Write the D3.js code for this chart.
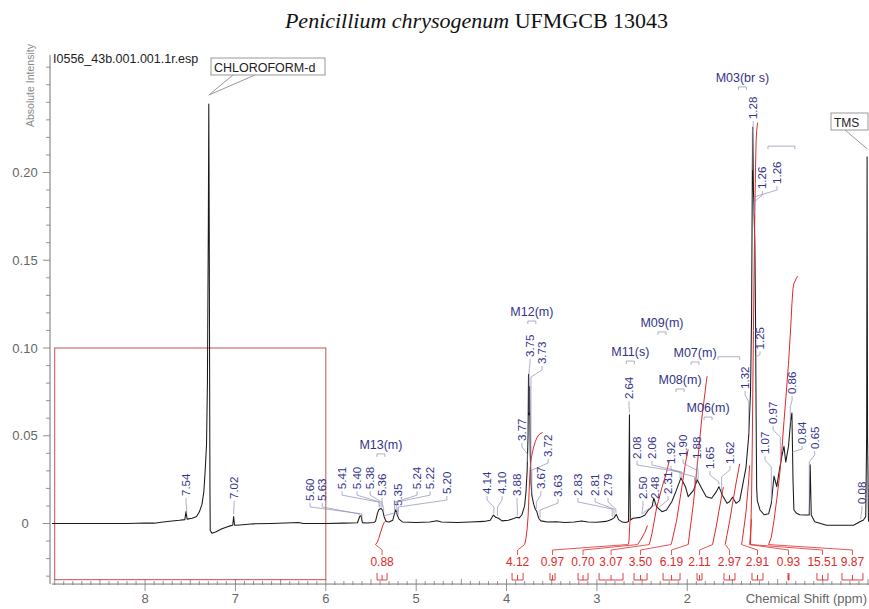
<!DOCTYPE html>
<html><head><meta charset="utf-8">
<script src="https://cdn.jsdelivr.net/npm/d3@7"></script>
<style>body{margin:0;background:#fff}svg{display:block;font-family:"Liberation Sans",Arial,sans-serif}</style>
</head><body>
<svg id="chart" width="869" height="609"></svg>
<script>
// 1H NMR trace: [chemical shift (ppm), absolute intensity]
const spectrum = [
[9.03,0],[8.2,0],[8.0,0.0003],[7.9,0.0002],[7.8,0.0008],[7.7,0.0014],[7.62,0.0018],[7.56,0.0022],
[7.547,0.0068],[7.535,0.0025],[7.48,0.003],[7.43,0.004],[7.40,0.0065],[7.37,0.011],[7.35,0.018],
[7.335,0.03],[7.32,0.045],[7.31,0.08],[7.30,0.17],[7.295,0.239],[7.29,0.17],[7.285,0.07],[7.282,0.02],
[7.279,-0.004],[7.26,-0.0055],[7.22,-0.0048],[7.15,-0.003],[7.07,-0.0015],[7.03,-0.001],[7.02,0.004],
[7.01,-0.001],[6.95,-0.0008],[6.8,-0.0002],[6.6,0],[6.3,0.0006],[6.25,0],[6.0,0],[5.8,0.0002],
[5.65,0.0004],[5.625,0.004],[5.61,0.0045],[5.595,0.0005],[5.55,0.0003],[5.47,0.0006],[5.45,0.0012],
[5.43,0.0055],[5.415,0.0078],[5.39,0.0086],[5.37,0.0074],[5.355,0.004],[5.335,0.0012],[5.30,0.0008],
[5.26,0.0018],[5.235,0.0065],[5.225,0.0078],[5.21,0.005],[5.19,0.0025],[5.15,0.0008],[5.0,0.0006],
[4.85,0.0008],[4.77,0.0016],[4.72,0.0008],[4.55,0.0006],[4.4,0.0009],[4.25,0.0012],[4.18,0.0018],
[4.145,0.0048],[4.12,0.0035],[4.09,0.003],[4.05,0.0015],[3.98,0.0018],[3.92,0.0028],[3.89,0.0035],
[3.86,0.0032],[3.83,0.005],[3.80,0.01],[3.785,0.018],[3.772,0.03],[3.762,0.05],[3.757,0.085],
[3.75,0.062],[3.745,0.078],[3.738,0.04],[3.73,0.024],[3.72,0.016],[3.70,0.011],[3.68,0.008],
[3.665,0.0068],[3.645,0.003],[3.62,0.0015],[3.55,0.0008],[3.45,0.001],[3.35,0.0006],[3.25,0.0009],
[3.17,0.0014],[3.1,0.0008],[3.0,0.0007],[2.9,0.0012],[2.86,0.0018],[2.83,0.0026],[2.81,0.0032],
[2.785,0.0052],[2.76,0.0022],[2.72,0.0008],[2.68,0.0006],[2.65,0.0012],[2.645,0.03],[2.64,0.062],
[2.636,0.03],[2.63,0.002],[2.60,0.003],[2.52,0.0035],[2.47,0.0047],[2.43,0.0077],[2.39,0.0096],
[2.37,0.0144],[2.34,0.0096],[2.28,0.0067],[2.23,0.0077],[2.17,0.0125],[2.12,0.019],[2.07,0.026],
[2.02,0.021],[1.99,0.0153],[1.93,0.019],[1.89,0.0249],[1.84,0.02],[1.79,0.0153],[1.73,0.0144],
[1.68,0.018],[1.65,0.021],[1.61,0.016],[1.56,0.0115],[1.53,0.0125],[1.50,0.015],[1.46,0.0115],
[1.42,0.013],[1.39,0.021],[1.35,0.032],[1.32,0.05],[1.30,0.075],[1.288,0.12],[1.28,0.2],
[1.275,0.2257],[1.268,0.19],[1.26,0.175],[1.252,0.16],[1.245,0.12],[1.238,0.06],[1.232,0.02],
[1.225,0.013],[1.195,0.0077],[1.15,0.005],[1.10,0.0055],[1.07,0.0115],[1.04,0.027],[1.01,0.021],
[0.98,0.0306],[0.955,0.038],[0.93,0.044],[0.91,0.035],[0.88,0.044],[0.855,0.059],[0.842,0.063],
[0.83,0.025],[0.82,0.0077],[0.79,0.0058],[0.755,0.005],[0.70,0.0048],[0.65,0.0048],[0.64,0.0334],
[0.628,0.0048],[0.59,0.001],[0.46,-0.001],[0.31,-0.001],[0.16,-0.001],[0.09,0.001],[0.05,0.002],
[0.025,0.004],[0.015,0.05],[0.01,0.209],[0.005,0.05],[-0.005,0.002],[-0.011,0.001]
];

// picked peaks: shift, where its label sits (ppm) and the intensity at the label's lower end
const peakShift  = [7.54,7.02,5.60,5.63,5.41,5.40,5.38,5.36,5.35,5.24,5.22,5.20,4.14,4.10,3.88,3.77,3.75,3.73,3.72,3.67,3.63,2.83,2.81,2.79,2.64,2.08,2.06,2.50,2.48,2.31,1.92,1.90,1.88,1.65,1.62,1.32,1.28,1.26,1.26,1.25,1.07,0.97,0.86,0.84,0.65,0.08];
const labelShift = [7.547,7.015,6.174,6.04,5.82,5.654,5.51,5.378,5.20,4.99,4.846,4.66,4.216,4.05,3.884,3.83,3.74,3.607,3.54,3.62,3.43,3.21,3.02,2.877,2.645,2.556,2.39,2.49,2.357,2.213,2.18,2.047,1.89,1.75,1.527,1.36,1.27,1.17,1.007,1.195,1.14,1.05,0.84,0.73,0.59,0.067];
const labelLevel = [0.0151,0.0134,0.0123,0.0123,0.019,0.019,0.019,0.0151,0.0094,0.019,0.019,0.0162,0.0162,0.0162,0.0151,0.0465,0.0943,0.0903,0.0373,0.0191,0.0145,0.0151,0.0151,0.0151,0.0703,0.0362,0.0362,0.0134,0.0134,0.0162,0.0334,0.0373,0.0362,0.0305,0.0334,0.0761,0.2299,0.1900,0.1929,0.0986,0.0390,0.0561,0.0732,0.0447,0.0419,0.0105];

// multiplet annotations
const multipletName  = ["M13(m)","M12(m)","M11(s)","M09(m)","M07(m)","M08(m)","M06(m)","M03(br s)"];
const multipletShift = [5.39,3.72,2.63,2.28,1.914,2.08,1.77,1.39];
const multipletLevel = [0.0425,0.1182,0.0954,0.112,0.0949,0.0795,0.0635,0.2516];
// multiplet ranges drawn as bracket lines: [from ppm, to ppm, intensity]
const multipletSpanFrom  = [1.66,1.107];
const multipletSpanTo    = [1.42,0.81];
const multipletSpanLevel = [0.0950,0.2150];

// integrals: value, integrated range and the range of the marker under each value
const integralValue = [0.88,4.12,0.97,0.70,3.07,3.50,6.19,2.11,2.97,2.91,0.93,15.51,9.87];
const integralFrom  = [5.45,3.80,2.66,2.55,2.42,2.18,1.99,1.72,1.58,1.40,1.31,1.30,1.10];
const integralTo    = [5.33,3.60,2.62,2.44,2.20,1.99,1.78,1.60,1.42,1.31,1.29,1.22,0.78];
const markerFrom    = [5.433,3.939,3.519,3.209,2.976,2.589,2.268,1.892,1.594,1.284,0.885,0.565,0.288];
const markerTo      = [5.322,3.817,3.463,3.098,2.711,2.445,2.080,1.837,1.472,1.162,0.874,0.443,0.056];

const xMajor = [2,3,4,5,6,7,8];
const yMajor = [0,0.05,0.10,0.15,0.20];
const yMajorText = ["0","0.05","0.10","0.15","0.20"];

const svg = d3.select("#chart");
const x = d3.scaleLinear().domain([9.03,-0.011]).range([52,869]);
const y = d3.scaleLinear().domain([0,0.2]).range([523.5,172.5]);
const axisGrey = "#777", textGrey = "#666", navy = "#33338a", red = "#e02a2a", leaderBlue = "#8c8cb4";

// title
const title = svg.append("text").attr("x",476.5).attr("y",28).attr("text-anchor","middle")
  .style("font-family","'Liberation Serif','Times New Roman',serif").style("font-size","22px").attr("fill","#111");
title.append("tspan").style("font-style","italic").text("Penicillium chrysogenum");
title.append("tspan").text(" UFMGCB 13043");

// axes
const xAxisY = y(-0.0345);
const yAxisX = 50;
svg.append("line").attr("x1",52).attr("x2",869).attr("y1",xAxisY).attr("y2",xAxisY).attr("stroke",axisGrey);
svg.append("line").attr("x1",yAxisX).attr("x2",yAxisX).attr("y1",y(0.267)).attr("y2",xAxisY).attr("stroke",axisGrey);

const xMinor = d3.range(0,90.5,1).map(i=>i/10).filter(v=>x(v)>=52 && x(v)<=869);
svg.append("g").selectAll("line").data(xMinor).join("line")
  .attr("x1",d=>x(d)).attr("x2",d=>x(d))
  .attr("y1",d=>xAxisY-(Math.abs(d*2-Math.round(d*2))<1e-6?5:3))
  .attr("y2",d=>xAxisY+(xMajor.includes(Math.round(d))&&Math.abs(d-Math.round(d))<1e-6?7:1))
  .attr("stroke",axisGrey).attr("stroke-width",0.8);
svg.append("g").selectAll("text").data(xMajor).join("text")
  .attr("x",d=>x(d)).attr("y",xAxisY+19).attr("text-anchor","middle")
  .style("font-size","13px").attr("fill",textGrey).text(d=>d);
svg.append("text").attr("x",867).attr("y",xAxisY+19).attr("text-anchor","end")
  .style("font-size","13px").attr("fill",textGrey).text("Chemical Shift (ppm)");

const yMinor = d3.range(-3,27).map(i=>i/100);
svg.append("g").selectAll("line").data(yMinor).join("line")
  .attr("x1",d=>yAxisX-(yMajor.some(m=>Math.abs(m-d)<1e-6)?7:4)).attr("x2",yAxisX)
  .attr("y1",d=>y(d)).attr("y2",d=>y(d)).attr("stroke",axisGrey).attr("stroke-width",0.8);
svg.append("g").selectAll("text").data(yMajor).join("text")
  .attr("x",25).attr("y",d=>y(d)+4.5).attr("text-anchor","middle")
  .style("font-size","13px").attr("fill",textGrey).text((d,i)=>yMajorText[i]);
svg.append("text").attr("transform","translate(34,127) rotate(-90)")
  .style("font-size","10.5px").attr("fill","#888").text("Absolute Intensity");

svg.append("text").attr("x",53).attr("y",63).style("font-size","12.5px").attr("fill","#222")
  .text("I0556_43b.001.001.1r.esp");

// expansion frame
svg.append("rect").attr("x",x(9.0)).attr("y",y(0.10))
  .attr("width",x(6.0)-x(9.0)).attr("height",y(-0.032)-y(0.10))
  .attr("fill","none").attr("stroke","#c85050").attr("stroke-width",1);

// spectrum
const line = d3.line().x(d=>x(d[0])).y(d=>y(d[1]));
svg.append("path").datum(spectrum).attr("d",line).attr("fill","none")
  .attr("stroke","#1a1a1a").attr("stroke-width",1.05).attr("stroke-linejoin","round");

function valueAt(p){
  for(let i=1;i<spectrum.length;i++){
    const a=spectrum[i-1], b=spectrum[i];
    if(p<=a[0] && p>=b[0]){ const t=(a[0]-p)/(a[0]-b[0]||1); return a[1]+t*(b[1]-a[1]); }
  }
  return 0;
}

// integral curves: running sum of the trace across each range
const integralBase = -0.012, perUnit = 0.0155;
function integralPoints(from,to,value){
  const pts=[[from,valueAt(from)],...spectrum.filter(d=>d[0]<from&&d[0]>to),[to,valueAt(to)]];
  const cum=[0];
  for(let i=1;i<pts.length;i++){
    const w=pts[i-1][0]-pts[i][0];
    cum.push(cum[i-1]+w*(Math.max(0,pts[i-1][1])+Math.max(0,pts[i][1]))/2);
  }
  const total=cum[cum.length-1]||1;
  return pts.map((d,i)=>[d[0], integralBase+cum[i]/total*value*perUnit]);
}
const gInt = svg.append("g");
integralValue.forEach((v,i)=>{
  gInt.append("path").datum(integralPoints(integralFrom[i],integralTo[i],v)).attr("d",line)
    .attr("fill","none").attr("stroke",red).attr("stroke-width",1);
  const cx=(x(markerFrom[i])+x(markerTo[i]))/2;
  gInt.append("text").attr("x",cx).attr("y",566).attr("text-anchor","middle")
    .style("font-size","12px").attr("fill",red).text(v.toFixed(2));
  gInt.append("path").attr("d",`M${x(markerFrom[i])},573V580H${x(markerTo[i])}V573M${cx},575V580`)
    .attr("fill","none").attr("stroke",red).attr("stroke-width",0.9);
  gInt.append("path").attr("d",`M${cx},555V550L${x(integralFrom[i])},${y(integralBase)}`)
    .attr("fill","none").attr("stroke",red).attr("stroke-width",0.8);
});

// peak labels
const gPk = svg.append("g");
peakShift.forEach((p,i)=>{
  const lx=x(labelShift[i]), ly=y(labelLevel[i]);
  const px=x(p), py=y(valueAt(p))-2;
  let d;
  if(py<=ly+6) d=`M${lx},${ly+1}V${ly+4}L${px},${ly+7}`;
  else d=`M${lx},${ly+1}V${ly+5}L${px},${Math.max(ly+5,Math.min(py,ly+12))}V${py}`;
  gPk.append("path").attr("d",d).attr("fill","none").attr("stroke",leaderBlue).attr("stroke-width",0.7);
  gPk.append("text").attr("transform",`translate(${lx+4},${ly-1}) rotate(-90)`)
    .style("font-size","11.5px").attr("fill",navy).text(p.toFixed(2));
});

// multiplet names with small brackets
multipletName.forEach((n,i)=>{
  const mx=x(multipletShift[i]), my=y(multipletLevel[i]);
  svg.append("text").attr("x",mx).attr("y",my).attr("text-anchor","middle")
    .style("font-size","12.5px").attr("fill",navy).text(n);
  svg.append("path").attr("d",`M${mx-4},${my+8}V${my+5}H${mx+4}V${my+8}`)
    .attr("fill","none").attr("stroke",leaderBlue).attr("stroke-width",0.7);
});
multipletSpanFrom.forEach((f,i)=>{
  const yy=y(multipletSpanLevel[i]);
  svg.append("path").attr("d",`M${x(f)},${yy+3}V${yy}H${x(multipletSpanTo[i])}V${yy+3}`)
    .attr("fill","none").attr("stroke",leaderBlue).attr("stroke-width",0.7);
});

// callouts for solvent and reference
const chX = x(7.295), chY = y(0.239);
svg.append("rect").attr("x",211).attr("y",58).attr("width",114).attr("height",17)
  .attr("fill","#fff").attr("stroke","#999");
svg.append("text").attr("x",214).attr("y",71.5).style("font-size","12.5px").attr("fill","#222").text("CHLOROFORM-d");
svg.append("path").attr("d",`M233,75L${chX},${chY-9}L255,75`).attr("fill","none").attr("stroke","#999");
const tmsX = x(0.01), tmsY = y(0.209);
svg.append("rect").attr("x",831).attr("y",113).attr("width",37).attr("height",17)
  .attr("fill","#fff").attr("stroke","#999");
svg.append("text").attr("x",834).attr("y",126.5).style("font-size","12px").attr("fill","#222").text("TMS");
svg.append("path").attr("d",`M845,130L${tmsX},${tmsY-8}`).attr("fill","none").attr("stroke","#999");
</script>
</body></html>
